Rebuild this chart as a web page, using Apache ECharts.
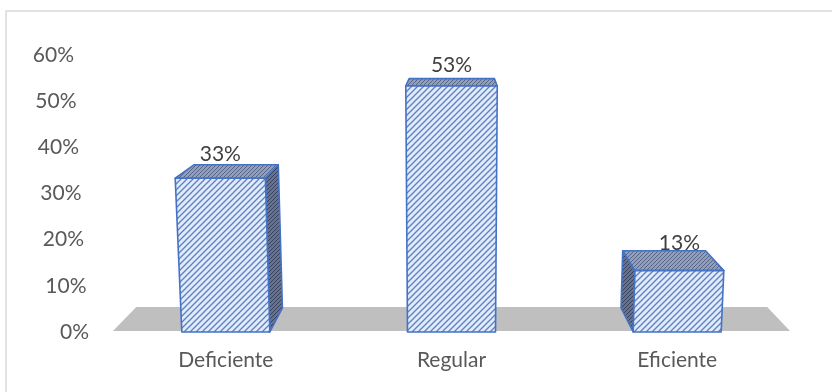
<!DOCTYPE html>
<html><head><meta charset="utf-8">
<script src="https://cdn.jsdelivr.net/npm/echarts@6/dist/echarts.min.js"></script>
<style>html,body{margin:0;padding:0;background:#fff}#c{width:832px;height:392px}</style>
</head><body><div id="c"></div>
<script>
// ---- data ----
const categories = ['Deficiente', 'Regular', 'Eficiente'];
const values = [33.3, 53.3, 13.3];
const valueLabels = ['33%', '53%', '13%'];
const yTicks = [0, 10, 20, 30, 40, 50, 60];
const yTickLabels = ['0%', '10%', '20%', '30%', '40%', '50%', '60%'];

// ---- styling helpers ----
const FONT = 'Lato, Carlito, Calibri, sans-serif';
const FS = 21;
function stripePattern() {
  const c = document.createElement('canvas'); c.width = 6; c.height = 6;
  const g = c.getContext('2d');
  g.fillStyle = '#e3eaf8'; g.fillRect(0, 0, 6, 6);
  g.strokeStyle = '#5580cc'; g.lineWidth = 1.3;
  g.beginPath();
  g.moveTo(-1, 7); g.lineTo(7, -1);
  g.moveTo(-4, 4); g.lineTo(4, -4);
  g.moveTo(2, 10); g.lineTo(10, 2);
  g.stroke();
  return { image: c, repeat: 'repeat' };
}
function dotPattern(bg, fg) {
  const c = document.createElement('canvas'); c.width = 4; c.height = 4;
  const g = c.getContext('2d');
  g.fillStyle = bg; g.fillRect(0, 0, 4, 4);
  g.fillStyle = fg;
  g.fillRect(0, 0, 1, 1); g.fillRect(2, 2, 1, 1); g.fillRect(1, 3, 1, 1); g.fillRect(3, 1, 1, 1);
  return { image: c, repeat: 'repeat' };
}
const frontFill = stripePattern();
const topFill = dotPattern('#939fb8', '#55658a');
const sideFill = dotPattern('#66728e', '#36425f');
const EDGE = '#4472c4';

// perspective parameters
const VX = 455, VY = -21, S = 0.932, KC = 451, K = 0.00016;
function backPt(p) { return [VX + S * (p[0] - VX), VY + S * (p[1] - VY)]; }

function renderFloor(params, api) {
  const cs = params.coordSys;
  const yb = api.coord([0, 0])[1] - 1;
  const FL = [cs.x, yb], FR = [cs.x + cs.width, yb];
  return {
    type: 'polygon',
    shape: { points: [FL, FR, backPt(FR), backPt(FL)] },
    style: { fill: '#bfbfbf' }
  };
}

function renderBar(params, api) {
  const idx = api.value(0), v = api.value(1);
  const p0 = api.coord([idx, 0]);
  const p1 = api.coord([idx, v]);
  const bw = api.size([1, 0])[0] * 0.39;
  const y0 = p0[1], y1 = p1[1];
  const ks = (x, y) => [KC + (x - KC) * (1 + K * (y0 - y)), y];
  const FLB = ks(p0[0] - bw / 2, y0), FRB = ks(p0[0] + bw / 2, y0);
  const FLT = ks(p0[0] - bw / 2, y1), FRT = ks(p0[0] + bw / 2, y1);
  const BLB = backPt(FLB), BRB = backPt(FRB), BLT = backPt(FLT), BRT = backPt(FRT);
  const st = (fill) => ({ fill: fill, stroke: EDGE, lineWidth: 1.6, lineJoin: 'round' });
  const children = [];
  if (BRT[0] > FRT[0] + 0.5) children.push({ type: 'polygon', shape: { points: [FRT, BRT, BRB, FRB] }, style: st(sideFill) });
  if (BLT[0] < FLT[0] - 0.5) children.push({ type: 'polygon', shape: { points: [FLT, BLT, BLB, FLB] }, style: st(sideFill) });
  children.push({ type: 'polygon', shape: { points: [FLT, FRT, BRT, BLT] }, style: st(topFill) });
  children.push({ type: 'polygon', shape: { points: [FLB, FRB, FRT, FLT] }, style: st(frontFill) });
  children.push({
    type: 'text',
    style: {
      text: valueLabels[idx], x: (FLT[0] + FRT[0]) / 2, y: (FLT[1] + BLT[1]) / 2 - 17,
      align: 'center', verticalAlign: 'middle', fontSize: FS, fontFamily: FONT, fill: '#404040'
    }
  });
  return { type: 'group', children: children };
}

const rich = {};
yTicks.forEach((t) => {
  rich['s' + t] = { padding: [0, t / 60 * 15, 0, 0], fontSize: FS, fontFamily: FONT, color: '#595959' };
});

const chart = echarts.init(document.getElementById('c'), null, { renderer: 'canvas' });
chart.setOption({
  backgroundColor: '#ffffff',
  animation: false,
  graphic: [{
    type: 'rect', shape: { x: 6, y: 11, width: 900, height: 500 },
    style: { fill: 'none', stroke: '#d9d9d9', lineWidth: 1.5 }, silent: true
  }],
  grid: { left: 113, right: 42, top: 55, bottom: 60 },
  xAxis: {
    type: 'category', data: categories, boundaryGap: true,
    axisLine: { show: false }, axisTick: { show: false },
    axisLabel: { margin: 18, fontSize: FS, fontFamily: FONT, color: '#595959' }
  },
  yAxis: {
    type: 'value', min: 0, max: 60, interval: 10,
    splitLine: { show: false }, axisLine: { show: false }, axisTick: { show: false },
    axisLabel: {
      margin: 24, fontSize: FS, fontFamily: FONT, color: '#595959',
      formatter: function (v) { const i = yTicks.indexOf(v); return '{s' + v + '|' + yTickLabels[i] + '}'; },
      rich: rich
    }
  },
  series: [
    { type: 'custom', renderItem: renderFloor, data: [[0, 0]], z: 1, silent: true },
    { type: 'custom', renderItem: renderBar, data: categories.map((c, i) => [i, values[i]]), z: 2, silent: true }
  ]
});
</script></body></html>
